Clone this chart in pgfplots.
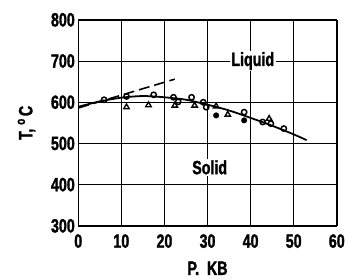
\documentclass[border=0pt]{standalone}
\usepackage{fontspec}
\setmainfont{Liberation Sans}[UprightFont=* Bold, FakeStretch=0.74, FakeBold=1.5]
\usepackage{pgfplots}
\pgfplotsset{compat=1.18}
\begin{document}
\begin{tikzpicture}
\begin{axis}[
  scale only axis,
  width=261bp, height=208bp,
  xmin=0, xmax=60, ymin=300, ymax=800,
  xtick={0,10,...,60}, ytick={300,400,...,800},
  grid=major, major grid style={black, line width=0.5pt},
  major tick length=0pt,
  axis line style={black, line width=1.1pt},
  /pgf/number format/assume math mode=true,
  tick label style={font=\fontsize{19.5}{19.5}\selectfont},
  xticklabel style={yshift=-5bp},
  label style={font=\fontsize{19.5}{19.5}\selectfont},
  xlabel={P.\ \ KB},
  ylabel={T, $^{\mathrm{o}}$C},
  xlabel style={yshift=-7bp},
  ylabel shift=9bp,
  clip=false,
]
% solid curve
\addplot[black, line width=1.8pt, smooth, tension=0.5] coordinates {
 (0,589) (5,602) (10,611) (15,615) (20,612) (25,606) (30,594) (35,580) (40,562) (45,543) (50,522) (53,508)
};
% dashed line
\addplot[black, line width=1.6pt, dash pattern=on 11bp off 5bp] coordinates {(0,586) (22.4,656)};
% open circles
\addplot[only marks, mark=o, mark size=2.7bp, mark options={line width=1.5pt, fill=white}] coordinates {
 (6,606) (11.2,614) (17.5,618) (22.1,612) (23.2,601) (26.3,612) (29,600) (29.7,588) (38.5,576) (42.8,552) (44.7,548) (47.7,536)
};
% filled circles
\addplot[only marks, mark=*, mark size=2.8bp, fill=black] coordinates {
 (32,568) (38.5,556)
};
% open triangles
\addplot[only marks, mark=triangle, mark size=3.2bp, mark options={line width=1.4pt, fill=white}] coordinates {
 (11.2,588) (16.3,593) (22.4,592) (27,592) (32,590) (34.7,570) (44.3,560)
};
\node[fill=white, inner sep=1.5bp, font=\fontsize{19.5}{19.5}\selectfont] at (axis cs:40.5,700) {Liquid};
\node[fill=white, inner sep=1.5bp, font=\fontsize{19.5}{19.5}\selectfont] at (axis cs:30.5,442) {Solid};
\end{axis}
\path[use as bounding box] (-79bp,-54bp) rectangle (269bp,228bp);
\end{tikzpicture}
\end{document}
